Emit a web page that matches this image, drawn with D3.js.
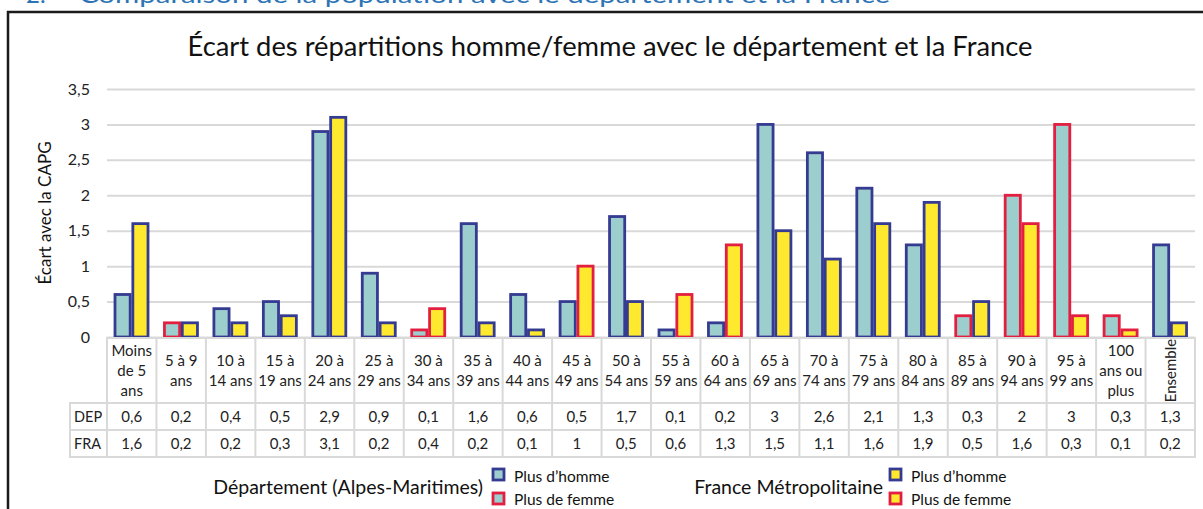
<!DOCTYPE html>
<html lang="fr">
<head>
<meta charset="UTF-8">
<title>Écart des répartitions homme/femme</title>
<script src="https://d3js.org/d3.v7.min.js"></script>
<style>
  body { margin: 0; background: #fff; }
  svg { display: block; font-family: Lato, "Open Sans", sans-serif; }
</style>
</head>
<body>
<div id="chart"></div>
<script>
// categories (age groups), one label line per entry
var categories = [
  ["Moins", "de 5", "ans"], ["5 à 9", "ans"], ["10 à", "14 ans"], ["15 à", "19 ans"],
  ["20 à", "24 ans"], ["25 à", "29 ans"], ["30 à", "34 ans"], ["35 à", "39 ans"],
  ["40 à", "44 ans"], ["45 à", "49 ans"], ["50 à", "54 ans"], ["55 à", "59 ans"],
  ["60 à", "64 ans"], ["65 à", "69 ans"], ["70 à", "74 ans"], ["75 à", "79 ans"],
  ["80 à", "84 ans"], ["85 à", "89 ans"], ["90 à", "94 ans"], ["95 à", "99 ans"],
  ["100", "ans ou", "plus"], ["Ensemble"]
]

// écart avec la CAPG
var depValues = [0.6, 0.2, 0.4, 0.5, 2.9, 0.9, 0.1, 1.6, 0.6, 0.5, 1.7, 0.1, 0.2, 3, 2.6, 2.1, 1.3, 0.3, 2, 3, 0.3, 1.3]
var fraValues = [1.6, 0.2, 0.2, 0.3, 3.1, 0.2, 0.4, 0.2, 0.1, 1, 0.5, 0.6, 1.3, 1.5, 1.1, 1.6, 1.9, 0.5, 1.6, 0.3, 0.1, 0.2]

// H = plus d'homme, F = plus de femme
var depSex = ["H","F","H","H","H","H","F","H","H","H","H","H","H","H","H","H","H","F","F","F","F","H"]
var fraSex = ["H","H","H","H","H","H","F","H","H","F","H","F","F","H","H","H","H","H","F","F","F","H"]

var yTicks = [0, 0.5, 1, 1.5, 2, 2.5, 3, 3.5]

var width = 1203, height = 509
var teal = "#9dcece", yellow = "#ffe92e", navy = "#363b92", red = "#e21f40", grid = "#d9d9d9"
var fmt = function(v) { return String(v).replace(".", ",") }

var svg = d3.select("#chart").append("svg")
  .attr("width", width).attr("height", height)

// heading of the document, cut at the top
var head = svg.append("g").attr("fill", "#2e74b5").style("font-size", "24px")
head.append("text").attr("x", 26).attr("y", 3).text("2.")
head.append("text").attr("x", 79).attr("y", 3)
  .attr("textLength", 811).attr("lengthAdjust", "spacingAndGlyphs")
  .text("Comparaison de la population avec le département et la France")

// chart frame
svg.append("path")
  .attr("d", "M8," + height + "V12H" + width)
  .attr("fill", "none").attr("stroke", "#1a1a1a").attr("stroke-width", 2.5)

svg.append("text")
  .attr("x", 610).attr("y", 56).attr("text-anchor", "middle")
  .style("font-size", "26px").attr("fill", "#111")
  .attr("textLength", 845).attr("lengthAdjust", "spacingAndGlyphs")
  .text("Écart des répartitions homme/femme avec le département et la France")

var idx = d3.range(categories.length)
var x0 = d3.scaleBand().domain(idx).range([107, 1195])
var x1 = d3.scaleBand().domain(["DEP", "FRA"]).range([8, 41]).paddingInner(0.15)
var y = d3.scaleLinear().domain([0, 3.5]).range([337, 89])

// grid and y axis
var yAxis = svg.append("g")
  .attr("transform", "translate(107,0)")
  .call(d3.axisLeft(y).tickValues(yTicks).tickSize(-1088).tickFormat(fmt).tickPadding(17))
yAxis.select(".domain").remove()
yAxis.selectAll(".tick line").attr("stroke", grid).attr("stroke-width", 2)
yAxis.selectAll(".tick text").attr("fill", "#222").style("font-size", "16px")
  .style("font-family", "Lato, sans-serif")

svg.append("text")
  .attr("transform", "translate(51,213) rotate(-90)")
  .attr("text-anchor", "middle").style("font-size", "17px").attr("fill", "#111")
  .text("Écart avec la CAPG")

// bars
var rows = idx.map(function(i) {
  return [
    { key: "DEP", i: i, v: depValues[i], sex: depSex[i], fill: teal },
    { key: "FRA", i: i, v: fraValues[i], sex: fraSex[i], fill: yellow }
  ]
})
svg.append("g").selectAll("g")
  .data(rows).join("g")
    .attr("transform", function(d, i) { return "translate(" + x0(i) + ",0)" })
  .selectAll("rect")
  .data(function(d) { return d }).join("rect")
    .attr("x", function(d) { return x1(d.key) })
    .attr("width", x1.bandwidth())
    .attr("y", function(d) { return y(d.v) })
    .attr("height", function(d) { return y(0) - y(d.v) })
    .attr("fill", function(d) { return d.fill })
    .attr("stroke", function(d) { return d.sex == "H" ? navy : red })
    .attr("stroke-width", 2.8)

// data table
var tTop = 338, hHead = 65, hRow = 27
var table = svg.append("g").attr("stroke", grid).attr("stroke-width", 2).attr("fill", "none")
table.append("rect").attr("x", 107).attr("y", tTop).attr("width", 1088).attr("height", hHead + 2 * hRow)
table.append("rect").attr("x", 70).attr("y", tTop + hHead).attr("width", 37).attr("height", 2 * hRow)
table.selectAll("line.c").data(idx.slice(1)).join("line")
  .attr("x1", function(i) { return x0(i) }).attr("x2", function(i) { return x0(i) })
  .attr("y1", tTop).attr("y2", tTop + hHead + 2 * hRow)
table.selectAll("line.r").data([tTop + hHead, tTop + hHead + hRow]).join("line")
  .attr("x1", 70).attr("x2", 1195).attr("y1", function(d) { return d }).attr("y2", function(d) { return d })

var heads = svg.append("g").style("font-size", "15px").attr("fill", "#222").attr("text-anchor", "middle")
heads.selectAll("text").data(categories).join("text")
  .attr("transform", function(d, i) {
    var cx = x0(i) + x0.bandwidth() / 2
    if (d.length == 1) return "translate(" + (cx + 6) + "," + (tTop + hHead / 2) + ") rotate(-90)"
    return "translate(" + cx + "," + (tTop + hHead / 2 - (d.length - 1) * 10 + 5) + ")"
  })
  .each(function(d) {
    var t = d3.select(this)
    if (d.length == 1) { t.text(d[0]); return }
    d.forEach(function(line, k) {
      t.append("tspan").attr("x", 0).attr("y", k * 20).text(line)
    })
  })

var valueRows = [["DEP", depValues], ["FRA", fraValues]]
valueRows.forEach(function(r, k) {
  var cy = tTop + hHead + k * hRow + hRow / 2 + 5
  svg.append("text").attr("x", 74).attr("y", cy).style("font-size", "14.5px").attr("fill", "#222").text(r[0])
  svg.append("g").selectAll("text").data(r[1]).join("text")
    .attr("x", function(d, i) { return x0(i) + x0.bandwidth() / 2 })
    .attr("y", cy).attr("text-anchor", "middle")
    .style("font-size", "15px").attr("fill", "#222")
    .text(fmt)
})

// legend
var legends = [
  { title: "Département (Alpes-Maritimes)", tx: 483, bx: 492, fill: teal },
  { title: "France Métropolitaine", tx: 883, bx: 889, fill: yellow }
]
legends.forEach(function(l) {
  svg.append("text").attr("x", l.tx).attr("y", 494).attr("text-anchor", "end")
    .style("font-size", "19.5px").attr("fill", "#111").text(l.title)
  ;[["Plus d’homme", navy], ["Plus de femme", red]].forEach(function(e, k) {
    svg.append("rect").attr("x", l.bx + 1).attr("y", 469 + k * 24).attr("width", 11).attr("height", 11)
      .attr("fill", l.fill).attr("stroke", e[1]).attr("stroke-width", 2.8)
    svg.append("text").attr("x", l.bx + 22).attr("y", 482 + k * 23)
      .style("font-size", "15.5px").attr("fill", "#111").text(e[0])
  })
})
</script>
</body>
</html>
